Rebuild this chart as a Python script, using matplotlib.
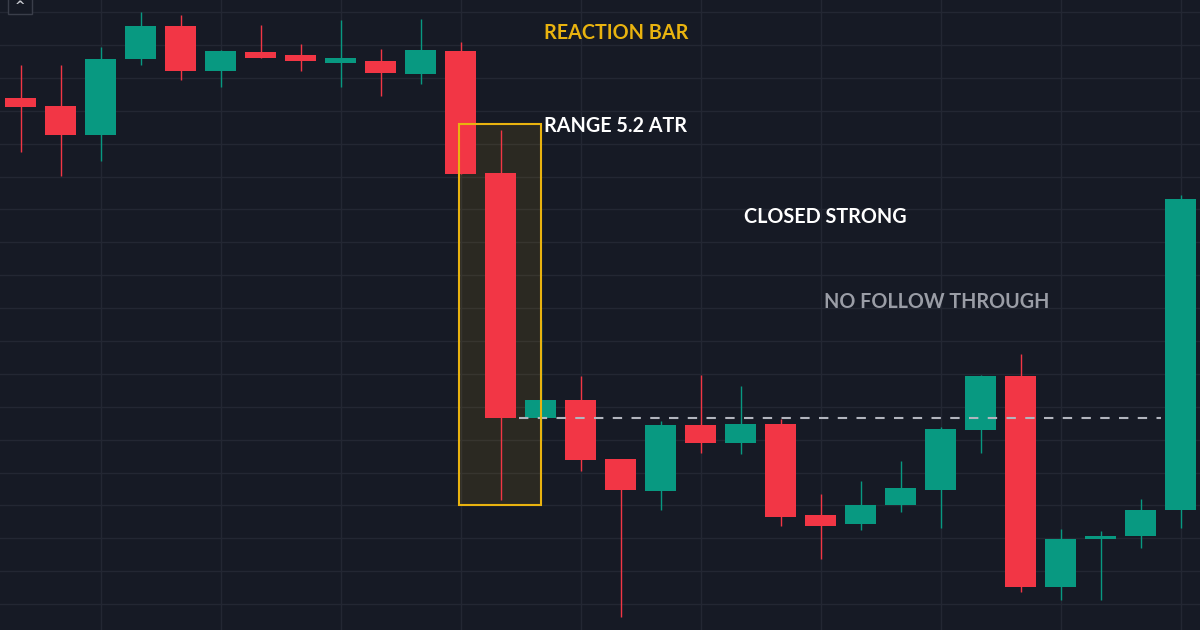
import matplotlib
matplotlib.use("Agg")
import matplotlib.pyplot as plt
from matplotlib.patches import Rectangle
import numpy as np

# candles (price units arbitrary)
opens  = [53.2, 52.4, 49.5, 57.1, 60.4, 55.9, 57.8, 57.5, 56.7, 56.9,
          55.6, 57.9, 45.7, 21.2, 23.0, 17.1, 13.9, 20.5, 18.7, 20.6,
          11.5, 10.6, 12.5, 14.0, 20.0, 25.4, 4.3, 9.1, 9.4, 12.0]
highs  = [56.5, 56.5, 58.3, 61.8, 61.5, 58.0, 60.5, 58.6, 61.0, 58.1,
          61.1, 58.8, 50.0, 31.0, 25.4, 17.1, 20.9, 25.5, 24.4, 21.1,
          13.6, 14.9, 16.9, 20.3, 25.5, 27.6, 10.1, 9.9, 13.1, 43.5]
lows   = [47.8, 45.4, 46.9, 56.5, 55.0, 54.3, 57.2, 55.9, 54.3, 53.4,
          54.6, 45.6, 13.0, 19.0, 15.9, 1.3, 12.0, 17.7, 17.6, 10.4,
          7.1, 10.0, 11.8, 10.2, 17.7, 3.8, 3.0, 3.0, 8.2, 10.2]
closes = [52.3, 49.5, 57.1, 60.4, 55.9, 57.9, 57.2, 56.9, 57.2, 55.7,
          58.0, 45.6, 21.2, 23.0, 17.0, 14.0, 20.5, 18.7, 20.6, 11.3,
          10.4, 12.5, 14.2, 20.1, 25.4, 4.3, 9.1, 9.4, 12.0, 43.1]

box_x = (10.96, 13.0)      # reaction bar highlight
box_y = (12.5, 50.6)
level = 21.2               # close of the reaction bar
level_x = (12.46, 28.5)

bg = "#161a25"
up = "#089981"
down = "#f23645"
gold = "#e9b30f"

fig = plt.figure(figsize=(12, 6.3), dpi=100, facecolor=bg)
ax = fig.add_axes([0, 0, 1, 1])
ax.set_facecolor(bg)

# grid
for gy in np.arange(61.8, -2, -3.29):
    ax.axhline(gy, color="#232733", lw=1, zorder=0)
for gx in range(2, 30, 3):
    ax.axvline(gx, color="#232733", lw=1, zorder=0)

# highlight box
ax.add_patch(Rectangle((box_x[0], box_y[0]), box_x[1] - box_x[0], box_y[1] - box_y[0],
                       facecolor=gold, alpha=0.10, edgecolor="none", zorder=1))
ax.add_patch(Rectangle((box_x[0], box_y[0]), box_x[1] - box_x[0], box_y[1] - box_y[0],
                       facecolor="none", edgecolor=gold, lw=1.5, zorder=4))

w = 0.775
for i, (o, h, l, c) in enumerate(zip(opens, highs, lows, closes)):
    col = up if c >= o else down
    ax.vlines(i, l, h, color=col, lw=1, zorder=2)
    ax.add_patch(Rectangle((i - w / 2, min(o, c)), w, max(abs(c - o), 0.25),
                           facecolor=col, edgecolor="none", zorder=3))

ax.hlines(level, level_x[0], level_x[1], colors="#b2b5be", linestyles=(0, (4.5, 4.5)),
          lw=1.5, zorder=3)

font = dict(family="Lato", fontweight="bold", fontsize=14.2, va="baseline", ha="left")
ax.text(13.09, 59.1, "REACTION BAR", color=gold, **font)
ax.text(13.09, 49.8, "RANGE 5.2 ATR", color="white", **font)
ax.text(18.09, 40.7, "CLOSED STRONG", color="white", **font)
ax.text(20.09, 32.2, "NO FOLLOW THROUGH", color="#9a9da6", **font)

ax.set_xlim(-0.5125, 29.4875)
ax.set_ylim(0, 63)
ax.axis("off")

# little collapse button in the corner
fig.patches.append(Rectangle((8 / 1200, 1 - 14 / 630), 24 / 1200, 20 / 630,
                             transform=fig.transFigure, facecolor=bg,
                             edgecolor="#3a3e4a", lw=1))
fig.text(20 / 1200, 1 - 6 / 630, "^", color="#c8cad0", fontsize=9,
         ha="center", va="center", fontweight="bold")

fig.savefig("out.png", dpi=100, facecolor=bg)
